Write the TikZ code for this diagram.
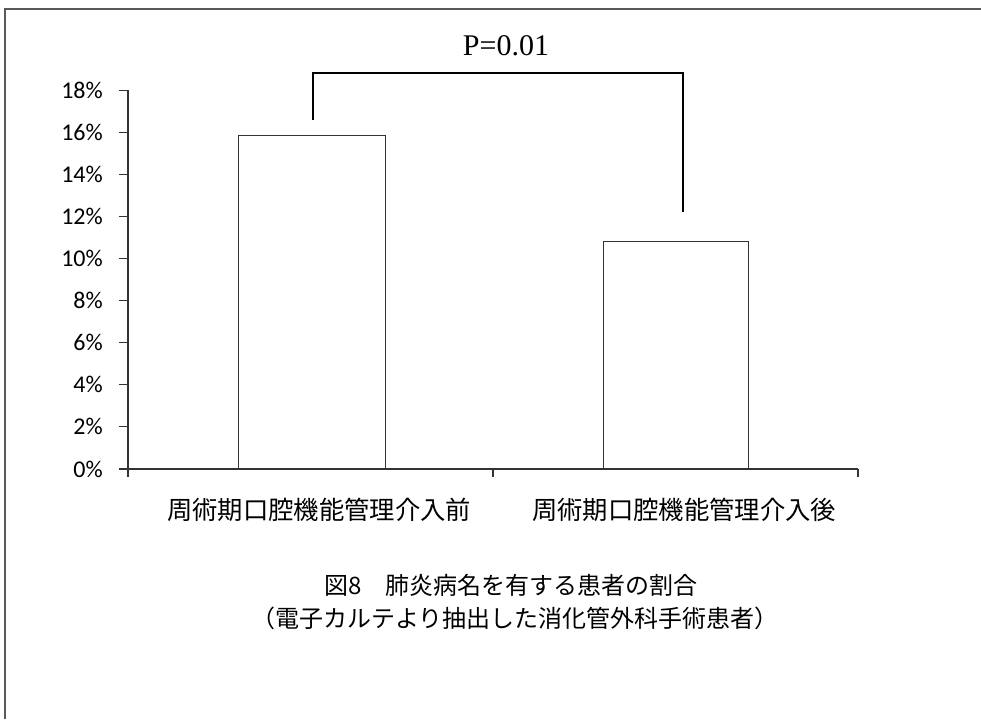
\documentclass[tikz,border=0pt]{standalone}
\usepackage{fontspec}
\setmainfont{Liberation Serif}
\newfontfamily\jafont{Noto Sans CJK JP}
\newfontfamily\pctfont{Carlito}

\tikzset{
  frame/.style={draw=black!65, line width=1pt},
  axis/.style={draw=black!80, line width=0.8pt},
  bar/.style={draw=black!80, line width=0.75pt, fill=white, inner sep=0pt, anchor=south west},
  bracket/.style={draw=black, line width=1.5pt},
  pctlabel/.style={anchor=east, inner sep=0pt, font=\pctfont\fontsize{18pt}{20pt}\selectfont},
  catlabel/.style={inner sep=0pt, font=\jafont\fontsize{19pt}{22pt}\selectfont},
  caplabel/.style={inner sep=0pt, font=\jafont\fontsize{18pt}{22pt}\selectfont},
}

\begin{document}
\begin{tikzpicture}[x=0.75pt,y=-0.75pt]

\useasboundingbox (0,0) rectangle (981,719);
\draw[frame] (5,719) to (5,9) to (981,9);

% value axis
\node[pctlabel] (p18) at (103,90.1) {18\%};
\node[pctlabel] (p16) at (103,132.2) {16\%};
\node[pctlabel] (p14) at (103,174.3) {14\%};
\node[pctlabel] (p12) at (103,216.4) {12\%};
\node[pctlabel] (p10) at (103,258.5) {10\%};
\node[pctlabel] (p8) at (103,300.6) {8\%};
\node[pctlabel] (p6) at (103,342.7) {6\%};
\node[pctlabel] (p4) at (103,384.8) {4\%};
\node[pctlabel] (p2) at (103,426.9) {2\%};
\node[pctlabel] (p0) at (103,469) {0\%};
\draw[axis] (119,90.1) to (128,90.1);
\draw[axis] (119,132.2) to (128,132.2);
\draw[axis] (119,174.3) to (128,174.3);
\draw[axis] (119,216.4) to (128,216.4);
\draw[axis] (119,258.5) to (128,258.5);
\draw[axis] (119,300.6) to (128,300.6);
\draw[axis] (119,342.7) to (128,342.7);
\draw[axis] (119,384.8) to (128,384.8);
\draw[axis] (119,426.9) to (128,426.9);
\draw[axis] (119,469) to (128,469);

% bars
\node[bar, minimum width=110.25pt, minimum height=249.75pt] (pre) at (238,469) {};
\node[bar, minimum width=108.75pt, minimum height=170.25pt] (post) at (603,469) {};

% category axis
\draw[axis] (128,90.1) to (128,469) to (858,469);
\draw[axis] (128,469) to (128,477);
\draw[axis] (493,469) to (493,477);
\draw[axis] (858,469) to (858,477);
\node[catlabel] (catpre) at (319,510) {周術期口腔機能管理介入前};
\node[catlabel] (catpost) at (684,510) {周術期口腔機能管理介入後};

% significance
\coordinate (lpre) at (313,120);
\coordinate (lpost) at (683,212);
\coordinate (brk) at (498,73);
\draw[bracket] (lpre) |- (brk) -| (lpost);
\node[font=\fontsize{22.5pt}{24pt}\selectfont, inner sep=0pt] (pval) at (506,46) {P=0.01};

% caption
\node[caplabel] (cap1) at (511,585) {図8　肺炎病名を有する患者の割合};
\node[caplabel] (cap2) at (515,618) {（電子カルテより抽出した消化管外科手術患者）};

\end{tikzpicture}
\end{document}
